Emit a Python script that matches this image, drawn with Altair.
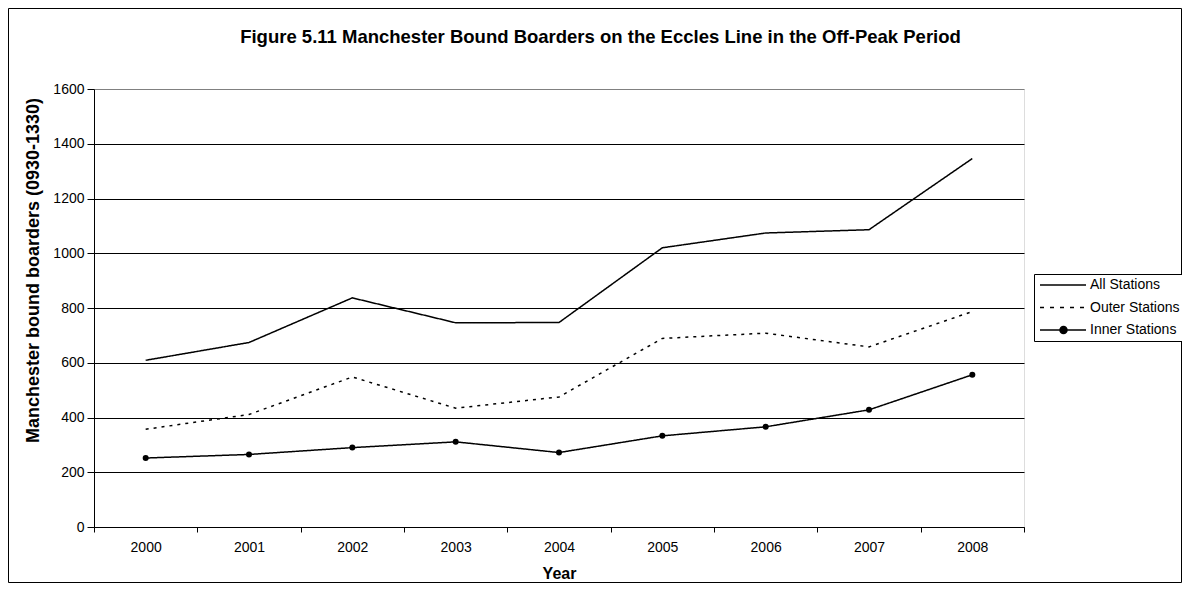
import altair as alt
import pandas as pd

years = ["2000", "2001", "2002", "2003", "2004", "2005", "2006", "2007", "2008"]
all_stations = [609, 674, 837, 746, 747, 1020, 1074, 1086, 1346]
outer_stations = [357, 411, 548, 434, 475, 689, 708, 658, 787]
inner_stations = [252, 265, 290, 311, 272, 333, 366, 428, 556]
series_names = ["All Stations", "Outer Stations", "Inner Stations"]
y_ticks = [0, 200, 400, 600, 800, 1000, 1200, 1400, 1600]

title_text = "Figure 5.11 Manchester Bound Boarders on the Eccles Line in the Off-Peak Period"
y_title = "Manchester bound boarders (0930-1330)"
x_title = "Year"

rows = []
for name, vals in zip(series_names, [all_stations, outer_stations, inner_stations]):
    for yr, v in zip(years, vals):
        rows.append({"year": yr, "value": v, "series": name})
df = pd.DataFrame(rows)

FONT = "Liberation Sans"
W, H = 930, 438

x_enc = alt.X(
    "year:N",
    sort=years,
    bandPosition=0.5,
    scale=alt.Scale(type="band", paddingInner=0, paddingOuter=0),
    axis=alt.Axis(
        title=x_title, tickBand="extent", grid=False, labelAngle=0,
        domainColor="black", tickColor="black", tickSize=5, labelPadding=8,
        labelFontSize=14, labelColor="black", labelFont=FONT,
        titleFont=FONT, titleFontSize=16, titleFontWeight="bold", titleColor="black",
        titlePadding=11,
    ),
)
y_enc = alt.Y(
    "value:Q",
    scale=alt.Scale(domain=[0, 1600], nice=False),
    axis=alt.Axis(
        title=y_title, values=y_ticks, grid=True, format="d",
        gridColor={"condition": {"test": "datum.value == 1600", "value": "#808080"}, "value": "black"},
        gridWidth=1, domainColor="black", tickColor="black", tickSize=7,
        labelPadding=3, labelFontSize=14, labelColor="black", labelFont=FONT,
        titleFont=FONT, titleFontSize=18, titleFontWeight="bold", titleColor="black",
        titleAngle=270, titleAlign="center", titleBaseline="middle",
        titleX=-61, titleY=181,
    ),
)

lines = alt.Chart(df).mark_line(color="black", strokeWidth=1.5).encode(
    x=x_enc,
    y=y_enc,
    detail="series:N",
    strokeDash=alt.condition(
        alt.datum.series == "Outer Stations", alt.value([3, 5]), alt.value([1, 0])
    ),
)

inner_pts = alt.Chart(df).transform_filter(
    alt.datum.series == "Inner Stations"
).mark_point(filled=True, color="black", size=36, opacity=1).encode(x=x_enc, y=y_enc)

legend_paths = [
    "M-1,0H8.2",
    "M-1,0H-0.2M1,0H1.8M3,0H3.8M5,0H5.8M7,0H7.8",
    "M-1,0H8.2M3.0,0A0.7,0.7 0 1,1 4.4,0A0.7,0.7 0 1,1 3.0,0Z",
]

legend_layer = alt.Chart(df).mark_point(
    filled=False, color="black", stroke="black", fill="black",
    strokeWidth=1.5, size=100, opacity=0
).encode(
    x=x_enc,
    y=y_enc,
    shape=alt.Shape(
        "series:N",
        scale=alt.Scale(domain=series_names, range=legend_paths),
        legend=alt.Legend(
            title=None, orient="none", legendX=940, legendY=185,
            strokeColor="black", fillColor="white", padding=4,
            symbolSize=100, symbolOpacity=1,
            symbolStrokeWidth=1.5,
            labelFont=FONT, labelFontSize=14, labelColor="black",
            labelOffset=38, rowPadding=8.5, cornerRadius=0,
        ),
    ),
)

one = pd.DataFrame({"k": [0]})

border = alt.Chart(one).mark_rect(
    fillOpacity=0, stroke="black", strokeWidth=1
).encode(
    x=alt.value(-85.5), x2=alt.value(1087.5),
    y=alt.value(-80.5), y2=alt.value(493.5),
)

title = alt.Chart(one).mark_text(
    text=title_text, font=FONT, fontSize=18.5, fontWeight="bold", color="black",
    align="center", baseline="alphabetic",
).encode(x=alt.value(506.5), y=alt.value(-46))

chart = alt.layer(border, title, lines, inner_pts, legend_layer).properties(
    width=W, height=H,
    autosize=alt.AutoSizeParams(type="none"),
    padding={"left": 86, "top": 81, "right": 158, "bottom": 56},
).configure_view(stroke="#808080", strokeWidth=1).configure(background="white")

chart.save("out.html", embed_options={"renderer": "svg", "actions": False})
